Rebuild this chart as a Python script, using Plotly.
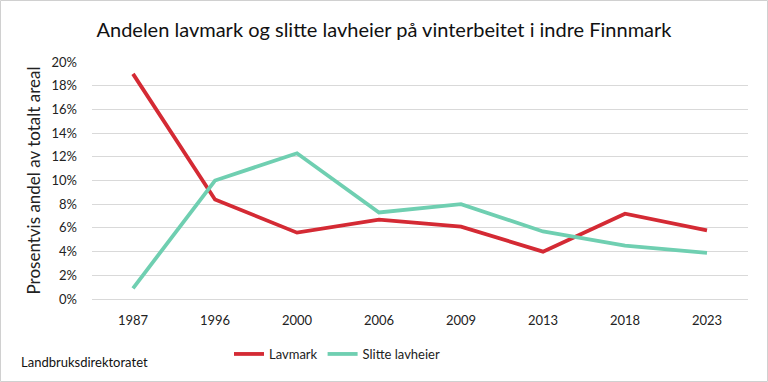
import plotly.graph_objects as go

years = ["1987", "1996", "2000", "2006", "2009", "2013", "2018", "2023"]
lavmark = [19.0, 8.4, 5.6, 6.7, 6.1, 4.0, 7.2, 5.8]
slitte = [0.9, 10.0, 12.3, 7.3, 8.0, 5.7, 4.5, 3.9]
y_ticks = [0, 2, 4, 6, 8, 10, 12, 14, 16, 18, 20]

FONT = "Lato, Carlito, 'Open Sans', sans-serif"

fig = go.Figure()
fig.add_trace(go.Scatter(x=years, y=lavmark, mode="lines", name="Lavmark",
                         line=dict(color="#D42A34", width=3.8)))
fig.add_trace(go.Scatter(x=years, y=slitte, mode="lines", name="Slitte lavheier",
                         line=dict(color="#6FCFB1", width=3.8)))

fig.update_layout(
    width=768, height=382,
    paper_bgcolor="white", plot_bgcolor="white",
    margin=dict(l=92, r=20, t=62, b=83, autoexpand=False),
    font=dict(family=FONT, color="#222", size=13),
    title=dict(text="Andelen lavmark og slitte lavheier på vinterbeitet i indre Finnmark",
               x=0.5, xanchor="center", xref="container", y=1 - 30/382, yref="container",
               yanchor="middle", font=dict(size=20, color="#111")),
    showlegend=True,
    legend=dict(orientation="h", x=337/768, xanchor="center", xref="container",
                y=1 - 354/382, yref="container", yanchor="middle",
                font=dict(size=13), traceorder="normal"),
    xaxis=dict(type="category", range=[-0.5, 7.5], showgrid=False, showline=False, ticks="",
               tickfont=dict(size=13), ticklabelstandoff=12),
    yaxis=dict(range=[0, 20.0], tickvals=y_ticks,
               ticktext=[f"{v}%" for v in y_ticks],
               showgrid=True, gridcolor="#D9D9D9", gridwidth=1.3,
               zeroline=True, zerolinecolor="#D9D9D9", zerolinewidth=1.3,
               tickfont=dict(size=13), ticklabelstandoff=14,
               title=dict(text="Prosentvis andel av totalt areal", font=dict(size=17), standoff=6)),
    annotations=[dict(text="Landbruksdirektoratet", xref="paper", yref="paper",
                      x=-73/656, xanchor="left", y=-(362 - 299) / 237, yanchor="middle",
                      showarrow=False, font=dict(size=13, color="#111"))],
)
fig.add_shape(type="rect", xref="paper", yref="paper",
              x0=-91.5/656, x1=1 + 19.5/656, y0=-82.5/237, y1=1 + 61.5/237,
              line=dict(color="#D0D0D0", width=1))

fig.write_html("out.html", config={"displayModeBar": False},
               post_script="document.body.style.margin='0';")
